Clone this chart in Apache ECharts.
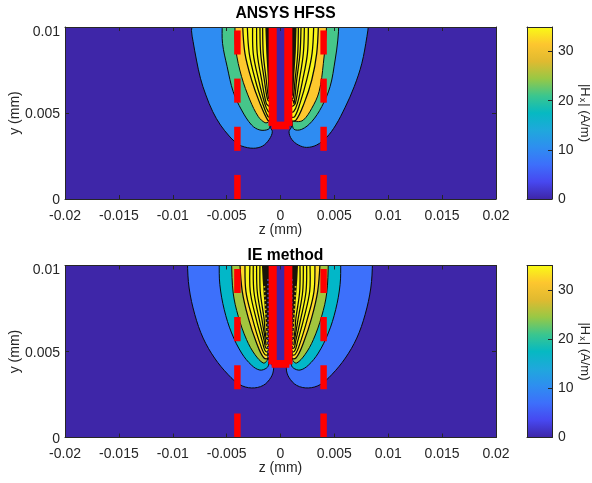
<!DOCTYPE html>
<html><head><meta charset="utf-8">
<style>html,body{margin:0;padding:0;background:#fff}#c{width:592px;height:483px}</style>
<script src="https://cdn.jsdelivr.net/npm/echarts@6/dist/echarts.min.js"></script>
</head><body><div id="c"></div>
<script>
// Contour outlines are [z, y] pairs in micrometres.
const hfssBlueL=[[-8.17,10.2],[-8.26,9.79],[-8.11,9.15],[-7.80,8.08],[-7.43,7.02],[-6.93,6.05],[-6.29,5.08],[-5.57,4.30],[-4.76,3.66],[-4.23,3.33],[-3.61,3.08],[-2.53,2.95],[-1.66,3.08],[-1.04,3.47],[-0.76,3.91],[-0.98,4.24],[-1.0,10.2]];
const hfssBlueR=[[1.0,10.2],[1.04,4.24],[0.79,3.91],[1.04,3.47],[1.66,3.14],[2.43,3.0],[3.36,3.14],[4.29,3.59],[5.13,4.3],[6.0,5.33],[6.84,6.53],[7.55,7.89],[8.02,9.44],[8.17,10.2]];
const hfssGreenL=[[-5.41,10.2],[-5.38,9.05],[-4.95,7.69],[-4.39,6.24],[-3.61,5.17],[-2.68,4.30],[-1.91,4.01],[-1.13,4.05],[-0.98,4.24],[-0.98,10.2]];
const hfssGreenR=[[1.0,10.2],[1.1,4.4],[1.26,4.05],[1.97,4.05],[2.90,4.5],[3.83,5.37],[4.60,6.53],[5.07,8.08],[5.32,9.24],[5.41,10.2]];
const hfssOrangeL=[[-4.23,10.2],[-4.14,8.66],[-3.61,7.11],[-2.84,5.76],[-2.06,4.79],[-1.44,4.44],[-1.13,4.5],[-1.0,10.2]];
const hfssOrangeR=[[1.0,10.2],[1.15,4.6],[1.5,4.5],[2.12,4.59],[2.9,5.27],[3.58,6.24],[3.98,7.89],[4.29,10.2]];
const hfssNestL=[
 [[-3.52,10.2],[-3.30,8.47],[-2.68,6.92],[-1.91,5.56],[-1.19,4.59],[-0.95,4.6],[-0.95,10.2]],
 [[-3.09,10.2],[-2.90,8.47],[-2.34,6.92],[-1.66,5.56],[-1.16,4.79],[-0.95,4.8],[-0.95,10.2]],
 [[-2.59,10.2],[-2.53,8.47],[-2.03,6.92],[-1.47,5.56],[-1.13,5.08],[-0.95,5.1],[-0.95,10.2]],
 [[-2.22,10.2],[-2.16,8.47],[-1.75,6.92],[-1.32,5.56],[-1.10,5.41],[-0.95,5.4],[-0.95,10.2]],
 [[-1.91,10.2],[-1.84,8.47],[-1.50,6.92],[-1.19,5.76],[-0.95,5.7],[-0.95,10.2]],
 [[-1.66,10.2],[-1.60,8.47],[-1.32,6.92],[-1.10,5.85],[-0.95,5.9],[-0.95,10.2]]];
const hfssNestR=[
 [[3.52,10.2],[3.36,8.47],[2.90,6.92],[2.19,5.56],[1.44,4.59],[0.95,4.6],[0.95,10.2]],
 [[3.09,10.2],[2.93,8.47],[2.43,6.92],[1.81,5.56],[1.32,4.79],[0.95,4.8],[0.95,10.2]],
 [[2.59,10.2],[2.5,8.47],[2.06,6.92],[1.57,5.56],[1.22,5.08],[0.95,5.1],[0.95,10.2]],
 [[2.22,10.2],[2.12,8.47],[1.75,6.92],[1.38,5.56],[1.16,5.41],[0.95,5.4],[0.95,10.2]],
 [[1.91,10.2],[1.81,8.47],[1.5,6.92],[1.26,5.56],[1.13,5.76],[0.95,5.7],[0.95,10.2]],
 [[1.66,10.2],[1.6,8.47],[1.35,6.92],[1.16,5.85],[0.95,5.9],[0.95,10.2]]];
const hfssBandL=[[-1.42,10.2],[-1.32,8.5],[-1.2,7.2],[-1.1,6.0],[-0.95,6.0],[-0.95,10.2]];
const hfssBandR=[[1.5,10.2],[1.42,8.5],[1.28,7.2],[1.18,6.0],[0.95,6.0],[0.95,10.2]];
const ieBlueL=[[-8.64,10.2],[-8.48,8.69],[-7.95,7.14],[-7.18,5.78],[-6.12,4.62],[-4.85,3.65],[-3.77,3.07],[-2.68,2.88],[-1.6,3.03],[-0.88,3.5],[-0.64,4.0],[-0.82,4.3],[-0.9,10.2]];
const ieTealL=[[-5.69,10.2],[-5.63,8.89],[-5.22,7.43],[-4.54,6.08],[-3.61,4.91],[-2.68,4.2],[-1.91,3.92],[-1.29,4.04],[-1.1,4.27],[-0.95,10.2]];
const ieOliveL=[[-4.54,10.2],[-4.39,8.4],[-3.92,7.05],[-3.15,5.69],[-2.37,4.82],[-1.6,4.33],[-1.25,4.47],[-0.95,5],[-0.95,10.2]];
const ieNestL=[
 [[-3.77,10.2],[-3.55,8.5],[-2.99,6.95],[-2.28,5.59],[-1.53,4.62],[-0.95,4.7],[-0.95,10.2]],
 [[-3.30,10.2],[-3.21,8.5],[-2.62,6.95],[-1.97,5.59],[-1.44,4.82],[-0.95,4.9],[-0.95,10.2]],
 [[-2.84,10.2],[-2.81,8.5],[-2.28,6.95],[-1.69,5.59],[-1.38,5.01],[-0.95,5.1],[-0.95,10.2]],
 [[-2.53,10.2],[-2.47,8.5],[-2.0,6.95],[-1.5,5.59],[-1.35,5.2],[-0.95,5.3],[-0.95,10.2]],
 [[-2.22,10.2],[-2.16,8.5],[-1.75,6.95],[-1.38,5.59],[-1.32,5.4],[-0.95,5.5],[-0.95,10.2]],
 [[-1.91,10.2],[-1.88,8.5],[-1.53,6.95],[-1.32,5.78],[-0.95,5.8],[-0.95,10.2]]];
const ieBandL=[[-1.74,10.2],[-1.66,9.2],[-1.58,8.5],[-1.5,7.8],[-1.42,7.1],[-1.36,6.5],[-1.3,5.9],[-1.26,5.2],[-1.22,4.6],[-0.95,4.6],[-0.95,10.2]];
const ieSpeckBlueL=[[-1.16,9.2],[-1.14,7.5],[-1.14,6.0],[-1.12,4.4]];
const ieSpeckYellowL=[[-1.5,8.8],[-1.38,7.4],[-1.27,6.2],[-1.2,5.0]];

// Conductor pieces of the red structure: [zMin, yMin, zMax, yMax] in micrometres.
const redBars=[[-4.3,0,-3.7,1.4],[-4.3,2.8,-3.7,4.2],[-4.3,5.6,-3.7,7.0],[-4.3,8.4,-3.7,9.8],
 [3.7,0,4.3,1.4],[3.7,2.8,4.3,4.2],[3.7,5.6,4.3,7.0],[3.7,8.4,4.3,9.8],
 [-1.1,4.26,-0.35,10],[0.35,4.26,1.1,10],[-1.1,4.26,1.1,4.5],[-0.82,4.05,0.82,4.3]];

const zTicks=[-0.02,-0.015,-0.01,-0.005,0,0.005,0.01,0.015,0.02];
const yTicks=[0,0.005,0.01];
const cbTicks=[0,10,20,30];
const cbStops=['#3e26a8','#4748f0','#3d6ffb','#2e8ef0','#1fa8dc','#06b9c2','#3bc68e','#98c845','#e0ba30','#fdc62f','#f9fb15'];
const titles=['ANSYS HFSS','IE method'];

const BG='#3e26a8',LINE='#0a0a0a',INK='#262626',DARK='#17150a';
const hfssC={blue:'#2e8cf2',green:'#46c68a',orange:'#fdc82e',yellow:'#f9f51a'};
const ieC={blue:'#3d70fb',teal:'#02b7c8',olive:'#a2c53e',amber:'#fdd92a',yellow:'#f9f51a'};
const mirror=p=>p.map(q=>[-0.1-q[0],q[1]]);

const nestLayers=(nest,first,rest)=>nest.map((pts,i)=>({pts,fill:i===0?first:rest,w:1.25}));
const hfssLayers=[
 {pts:hfssBlueL,fill:hfssC.blue},{pts:hfssBlueR,fill:hfssC.blue},
 {pts:hfssGreenL,fill:hfssC.green},{pts:hfssGreenR,fill:hfssC.green},
 {pts:hfssOrangeL,fill:hfssC.orange},{pts:hfssOrangeR,fill:hfssC.orange},
 ...nestLayers(hfssNestL,hfssC.yellow,hfssC.yellow),
 ...nestLayers(hfssNestR,hfssC.yellow,hfssC.yellow),
 {pts:hfssBandL,fill:DARK,flat:true},{pts:hfssBandR,fill:DARK,flat:true}];
const ieLayers=[
 {pts:ieBlueL,fill:ieC.blue},{pts:mirror(ieBlueL),fill:ieC.blue},
 {pts:ieTealL,fill:ieC.teal},{pts:mirror(ieTealL),fill:ieC.teal},
 {pts:ieOliveL,fill:ieC.olive},{pts:mirror(ieOliveL),fill:ieC.olive},
 ...nestLayers(ieNestL,ieC.amber,ieC.yellow),
 ...nestLayers(ieNestL.map(mirror),ieC.amber,ieC.yellow),
 {pts:ieBandL,fill:DARK,flat:true},{pts:mirror(ieBandL),fill:DARK,flat:true},
 {pts:ieSpeckYellowL,dash:'#d9c81e',open:true},{pts:mirror(ieSpeckYellowL),dash:'#d9c81e',open:true},
 {pts:ieSpeckBlueL,dash:'#3f5fe0',open:true},{pts:mirror(ieSpeckBlueL),dash:'#3f5fe0',open:true}];

const font='"Liberation Sans", Arial, sans-serif';
const U=1e-3; // micrometre to mm
const ABOVE=11.5;
function contourSeries(layers,ax){
 return {type:'custom',coordinateSystem:'cartesian2d',xAxisIndex:ax,yAxisIndex:ax,clip:true,z:2,silent:true,
  data:layers.map((_,i)=>[i]),
  renderItem(params,api){
   const l=layers[params.dataIndex];
   const toPx=p=>api.coord([p[0]*U,p[1]*U]);
   if(l.open) return {type:'polyline',shape:{points:l.pts.map(toPx)},style:{fill:null,stroke:l.dash,lineWidth:1.6,lineDash:[1.5,3]}};
   const pts=l.flat?l.pts:[[l.pts[0][0],ABOVE],...l.pts,[l.pts[l.pts.length-1][0],ABOVE]];
   return {type:'polygon',shape:{points:pts.map(toPx),smooth:l.flat?0:0.35},
    style:{fill:l.fill,stroke:l.flat?null:LINE,lineWidth:l.w||1}};
  }};
}
function redSeries(ax){
 return {type:'custom',coordinateSystem:'cartesian2d',xAxisIndex:ax,yAxisIndex:ax,clip:true,z:3,silent:true,
  data:redBars.map((_,i)=>[i]),
  renderItem(params,api){
   const b=redBars[params.dataIndex];
   const a=api.coord([b[0]*U,b[3]*U]),c=api.coord([b[2]*U,b[1]*U]);
   return {type:'rect',shape:{x:a[0],y:a[1],width:c[0]-a[0],height:c[1]-a[1]},style:{fill:'#ff0000'}};
  }};
}
function backSeries(ax){
 return {type:'custom',coordinateSystem:'cartesian2d',xAxisIndex:ax,yAxisIndex:ax,z:1,silent:true,data:[[0]],
  renderItem(params,api){
   const a=api.coord([-0.02,0.01]),c=api.coord([0.02,0]);
   return {type:'rect',shape:{x:a[0],y:a[1],width:c[0]-a[0],height:c[1]-a[1]},style:{fill:BG}};
  }};
}
function cbSeries(ax){
 return {type:'custom',coordinateSystem:'cartesian2d',xAxisIndex:ax,yAxisIndex:ax,z:2,silent:true,data:[[0]],
  renderItem(params,api){
   const a=api.coord([0,35]),c=api.coord([1,0]);
   return {type:'rect',shape:{x:a[0],y:a[1],width:c[0]-a[0],height:c[1]-a[1]},
    style:{fill:new echarts.graphic.LinearGradient(0,1,0,0,cbStops.map((color,i)=>({offset:i/(cbStops.length-1),color})))}};
  }};
}
const lineSt={lineStyle:{color:INK,width:1}};
const tickIn={inside:true,length:4,lineStyle:{color:INK,width:1}};
const labelSt={color:INK,fontFamily:font,fontSize:14};
const nameSt={color:INK,fontFamily:font,fontSize:14};
const grids=[],xAxes=[],yAxes=[],series=[];
[27,265.5].forEach((top,k)=>{
 // main panel: axis pair k*4 (bottom,left), k*4+1 (top,right); colourbar: k*4+2, k*4+3
 grids.push({left:65,top,width:431,height:172,outerBoundsMode:'none'},{left:527,top,width:25,height:172,outerBoundsMode:'none'});
 const gi=k*2;
 const xb={type:'value',gridIndex:gi,min:zTicks[0],max:zTicks[8],interval:0.005,z:10,axisLine:{show:true,onZero:false,...lineSt},axisTick:{show:true,...tickIn},splitLine:{show:false}};
 const yb={type:'value',gridIndex:gi,min:yTicks[0],max:yTicks[2],interval:0.005,z:10,axisLine:{show:true,onZero:false,...lineSt},axisTick:{show:true,...tickIn},splitLine:{show:false}};
 xAxes.push({...xb,position:'bottom',name:'z (mm)',nameLocation:'middle',nameGap:24,nameMoveOverlap:false,nameTextStyle:nameSt,axisLabel:{...labelSt,margin:10}});
 yAxes.push({...yb,position:'left',name:'y (mm)',nameLocation:'middle',nameGap:43,nameMoveOverlap:false,nameTextStyle:nameSt,
  axisLabel:{...labelSt,margin:5,formatter:v=>v===yTicks[2]?'{t|'+v+'}':'{m|'+v+'}',rich:{t:{...labelSt,padding:[10,0,0,0]},m:{...labelSt,padding:[3,0,0,0]}}}});
 xAxes.push({...xb,position:'top',axisLabel:{show:false}});
 yAxes.push({...yb,position:'right',axisLabel:{show:false}});
 const ci=gi+1;
 xAxes.push({type:'value',gridIndex:ci,min:0,max:1,position:'bottom',z:10,axisLine:{show:true,onZero:false,...lineSt},axisTick:{show:false},axisLabel:{show:false},splitLine:{show:false}});
 yAxes.push({type:'value',gridIndex:ci,min:0,max:35,interval:10,position:'right',z:10,axisLine:{show:true,onZero:false,...lineSt},axisTick:{show:true,...tickIn},splitLine:{show:false},
  axisLabel:{...labelSt,margin:6,showMaxLabel:false},
  name:'|H{s|x}| (A/m)',nameLocation:'middle',nameRotate:-90,nameGap:26,nameMoveOverlap:false,
  nameTextStyle:{...nameSt,fontSize:13,rich:{s:{fontFamily:font,fontSize:9,color:INK,verticalAlign:'bottom',padding:[4,1,0,1]}}}});
 xAxes.push({type:'value',gridIndex:ci,min:0,max:1,position:'top',z:10,axisLine:{show:true,onZero:false,...lineSt},axisTick:{show:false},axisLabel:{show:false},splitLine:{show:false}});
 yAxes.push({type:'value',gridIndex:ci,min:0,max:35,position:'left',z:10,axisLine:{show:true,onZero:false,...lineSt},axisTick:{show:false},axisLabel:{show:false},splitLine:{show:false}});
 const a=k*4;
 series.push(backSeries(a),contourSeries(k?ieLayers:hfssLayers,a),redSeries(a),cbSeries(a+2));
});
const chart=echarts.init(document.getElementById('c'),null,{renderer:'canvas'});
chart.setOption({animation:false,backgroundColor:'#fff',
 title:titles.map((text,i)=>({text,left:280.5,top:i?243:1,textAlign:'center',textStyle:{color:'#000',fontFamily:font,fontSize:15.7,fontWeight:'bold'}})),
 grid:grids,xAxis:xAxes,yAxis:yAxes,series});
</script></body></html>
